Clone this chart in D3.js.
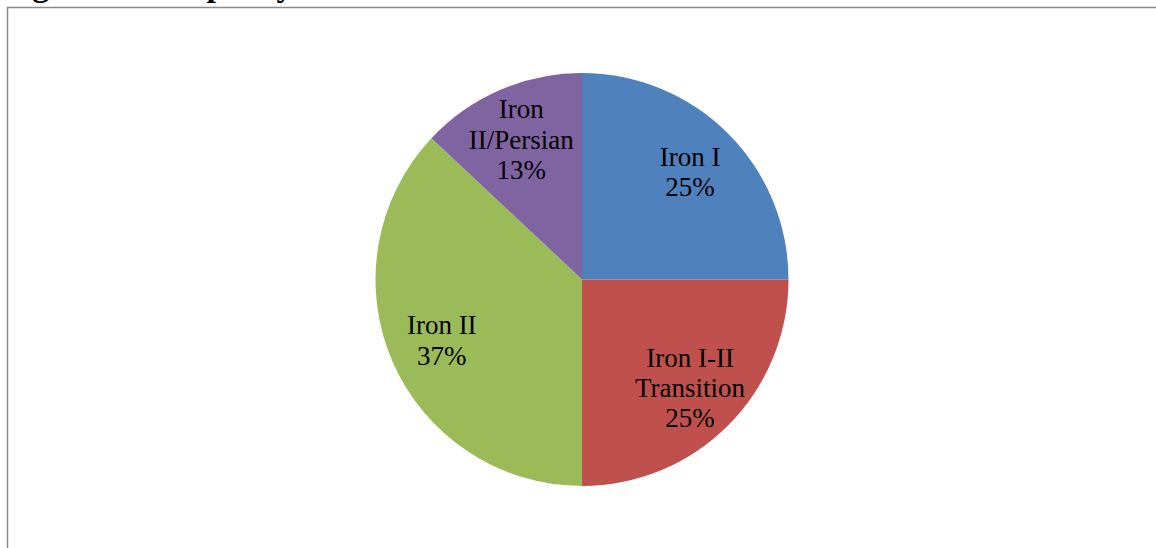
<!DOCTYPE html>
<html>
<head>
<meta charset="utf-8">
<script src="https://cdn.jsdelivr.net/npm/d3@7"></script>
<style>
  html, body { margin: 0; padding: 0; background: #fff; overflow: hidden; }
  svg { display: block; }
</style>
</head>
<body>
<div id="chart-container"></div>
<script>
/**************************************************
 * Pie Chart Data
 **************************************************/

// Periods (slices go clockwise from 12 o'clock)
const periods = ["Iron I", "Iron I-II Transition", "Iron II", "Iron II/Persian"];
// Share of items per period (in %)
const shares = [25, 25, 37, 13];
// Label lines as they wrap in the original
const labelLines = [
  ["Iron I"],
  ["Iron I-II", "Transition"],
  ["Iron II"],
  ["Iron", "II/Persian"]
];
const sliceColors = ["#4F81BD", "#C0504D", "#9BBB59", "#8064A2"];

/**************************************************
 * Pie Chart Rendering
 **************************************************/

const width = 1156, height = 548;
const svg = d3.select("#chart-container")
  .append("svg")
  .attr("width", width)
  .attr("height", height);

// title of the figure, cut off at the top of the page (only descenders show)
svg.append("text")
  .attr("x", 2)
  .attr("y", -4)
  .attr("font-family", "'Liberation Serif', 'Times New Roman', serif")
  .attr("font-size", "34px")
  .attr("font-weight", "bold")
  .attr("fill", "#000")
  .text("Figure 4: Weaponry");

// chart area frame (runs off the right and bottom edges)
svg.append("rect")
  .attr("x", 7.5)
  .attr("y", 7.5)
  .attr("width", width + 20)
  .attr("height", height + 20)
  .attr("fill", "#fff")
  .attr("stroke", "#8a8a8a")
  .attr("stroke-width", 1.5);

const cx = 582, cy = 279.5;
const radius = 206.5;

const data = periods.map((p, i) => ({ period: p, value: shares[i], lines: labelLines[i] }));

const pie = d3.pie().value(d => d.value).sort(null);
const arc = d3.arc().innerRadius(0).outerRadius(radius);
// ring used to place the labels inside each slice
const labelArc = d3.arc().innerRadius(radius * 0.74).outerRadius(radius * 0.74);

const arcs = svg.selectAll("g.slice")
  .data(pie(data))
  .enter()
  .append("g")
  .attr("class", "slice")
  .attr("transform", `translate(${cx},${cy})`);

arcs.append("path")
  .attr("d", arc)
  .attr("fill", (d, i) => sliceColors[i]);

const lineH = 30.5;
arcs.append("text")
  .attr("transform", d => `translate(${labelArc.centroid(d)})`)
  .attr("text-anchor", "middle")
  .attr("font-family", "'Liberation Serif', 'Times New Roman', serif")
  .attr("font-size", "27px")
  .attr("fill", "#000")
  .each(function(d) {
    const lines = d.data.lines.concat([d3.format(".0f")(d.data.value) + "%"]);
    const top = -(lines.length - 1) * lineH / 2;
    d3.select(this).selectAll("tspan")
      .data(lines)
      .enter()
      .append("tspan")
      .attr("x", 0)
      .attr("y", (l, j) => top + j * lineH)
      .attr("dy", "0.35em")
      .text(l => l);
  });
</script>
</body>
</html>
